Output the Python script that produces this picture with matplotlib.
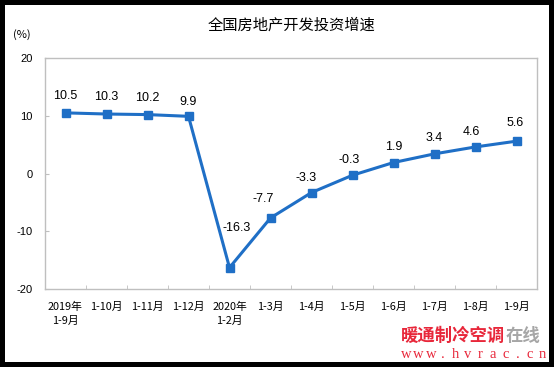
import matplotlib
matplotlib.use('Agg')
import matplotlib.pyplot as plt
from matplotlib.patches import Rectangle

plt.rcParams['font.family'] = ['Noto Sans CJK SC', 'DejaVu Sans']

periods = ['2019年\n1-9月', '1-10月', '1-11月', '1-12月', '2020年\n1-2月', '1-3月',
           '1-4月', '1-5月', '1-6月', '1-7月', '1-8月', '1-9月']
growth = [10.5, 10.3, 10.2, 9.9, -16.3, -7.7, -3.3, -0.3, 1.9, 3.4, 4.6, 5.6]
yticks = [-20, -10, 0, 10, 20]

# label offsets in pixels (dx, dy) relative to each point
offs = [(0, 17), (0, 17), (0, 17), (0, 14), (7, 40), (-7, 19),
        (-5, 15), (-3, 15), (0, 16), (0, 16), (-4, 15), (-1, 18)]

fig = plt.figure(figsize=(5.54, 3.67), dpi=100, facecolor='black')
fig.patches.append(Rectangle((5/554, 5/367), 544/554, 357/367, transform=fig.transFigure,
                             facecolor='white', edgecolor='none', zorder=-10))

ax = fig.add_axes([45/554, 1 - 289/367, 492/554, 231/367])
ax.set_facecolor('none')
x = list(range(len(growth)))
ax.plot(x, growth, color='#1F6FC6', lw=2.2, marker='s', ms=5.5, zorder=3)

for xi, v, (dx, dy) in zip(x, growth, offs):
    ax.annotate(f'{v}', (xi, v), xytext=(dx, dy), textcoords='offset pixels',
                ha='center', va='center', fontsize=9, family='Liberation Sans')

ax.set_xlim(-0.5, len(growth) - 0.5)
ax.set_ylim(-20, 20)
ax.set_yticks(yticks)
ax.set_yticklabels([str(t) for t in yticks], family='Liberation Sans')
ax.set_xticks(x)
ax.set_xticklabels(periods, linespacing=1.5)
ax.set_xticks([i + 0.5 for i in range(len(growth) - 1)], minor=True)
ax.tick_params(axis='x', which='major', length=0, labelsize=7.8, pad=9)
ax.tick_params(axis='x', which='minor', direction='in', length=3, color='#BFBFBF')
ax.tick_params(axis='y', direction='in', length=3, color='#BFBFBF', labelsize=8, pad=9)
for s in ax.spines.values():
    s.set_color('#BFBFBF')
    s.set_linewidth(1)

fig.text(292/554, 1 - 25/367, '全国房地产开发投资增速', ha='center', va='center', fontsize=11)
fig.text(22/554, 1 - 35/367, '(%)', ha='center', va='center', fontsize=8)

# watermark
fig.text(401/554, 1 - 336/367, '暖通制冷空调', ha='left', va='center', fontsize=12.5,
         fontweight='bold', color='#E8273A')
fig.text(506/554, 1 - 336/367, '在线', ha='left', va='center', fontsize=12.5,
         fontweight='bold', color='#A6A6A6')
for i, ch in enumerate('www.hvrac.cn'):
    fig.text((406 + i * 12.4) / 554, 1 - 354/367, ch, ha='center', va='center',
             fontsize=10.5, family='Liberation Serif', color='#E8273A')

fig.savefig('out.png', dpi=100, facecolor=fig.get_facecolor())
